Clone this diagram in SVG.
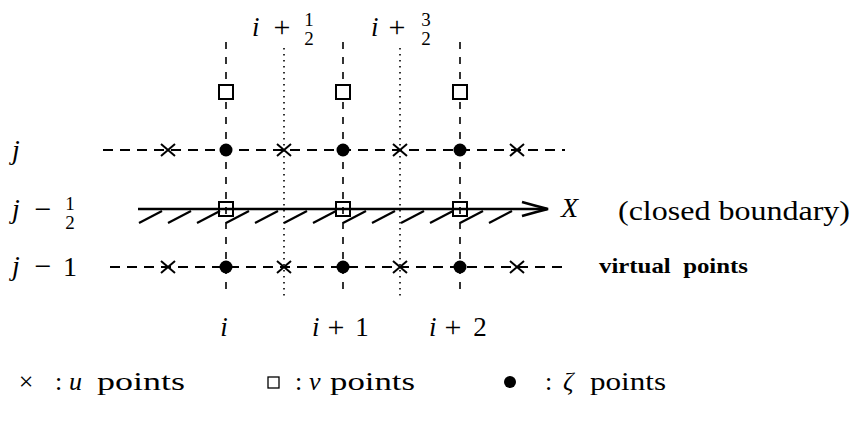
<svg xmlns="http://www.w3.org/2000/svg" width="855" height="423" viewBox="0 0 855 423">
<defs>
<style>
.vd{stroke:#000;stroke-width:1.6;stroke-dasharray:7 8;fill:none}
.vdot{stroke:#000;stroke-width:1.6;stroke-dasharray:1.5 4.5;fill:none}
.hd{stroke:#000;stroke-width:2;stroke-dasharray:10 7;fill:none}
.bd{stroke:#000;stroke-width:2.6;fill:none}
.ht{stroke:#000;stroke-width:2.2;fill:none}
.cr{stroke:#000;stroke-width:2;fill:none}
.sq{stroke:#000;stroke-width:2;fill:#fff}
.sqb{stroke:#000;stroke-width:2;fill:none}
.dt{fill:#000}
</style>
<g id="cross"><path class="cr" d="M-7,-6 L7,6 M-7,6 L7,-6"/></g>
</defs>
<rect width="855" height="423" fill="#fff"/>
<g id="connectors">
<line class="vd" x1="226" y1="42" x2="226" y2="297"/>
<line class="vd" x1="343" y1="42" x2="343" y2="297"/>
<line class="vd" x1="460" y1="42" x2="460" y2="297"/>
<line class="vdot" x1="284" y1="48" x2="284" y2="297"/>
<line class="vdot" x1="400" y1="48" x2="400" y2="297"/>
<line class="hd" x1="103" y1="150" x2="565" y2="150"/>
<line class="hd" x1="110" y1="267" x2="567" y2="267"/>
<line class="bd" x1="138" y1="209" x2="547" y2="209"/>
<path class="bd" d="M522,202 Q536,206 548,209 Q536,212 522,216"/>
<g id="hatch">
<line class="ht" x1="139" y1="223" x2="162" y2="211"/>
<line class="ht" x1="168" y1="223" x2="191" y2="211"/>
<line class="ht" x1="197" y1="223" x2="220" y2="211"/>
<line class="ht" x1="226" y1="223" x2="249" y2="211"/>
<line class="ht" x1="255" y1="223" x2="278" y2="211"/>
<line class="ht" x1="284" y1="223" x2="307" y2="211"/>
<line class="ht" x1="313" y1="223" x2="336" y2="211"/>
<line class="ht" x1="343" y1="223" x2="366" y2="211"/>
<line class="ht" x1="372" y1="223" x2="395" y2="211"/>
<line class="ht" x1="401" y1="223" x2="424" y2="211"/>
<line class="ht" x1="430" y1="223" x2="453" y2="211"/>
<line class="ht" x1="460" y1="223" x2="483" y2="211"/>
<line class="ht" x1="489" y1="223" x2="512" y2="211"/>
</g>
</g>
<g id="u-points">
<use href="#cross" x="168" y="150"/><use href="#cross" x="284" y="150"/><use href="#cross" x="400" y="150"/><use href="#cross" x="517" y="150"/>
<use href="#cross" x="168" y="267"/><use href="#cross" x="284" y="267"/><use href="#cross" x="400" y="267"/><use href="#cross" x="517" y="267"/>
</g>
<g id="zeta-points">
<circle class="dt" cx="226" cy="150" r="6.5"/><circle class="dt" cx="343" cy="150" r="6.5"/><circle class="dt" cx="460" cy="150" r="6.5"/>
<circle class="dt" cx="226" cy="267" r="6.5"/><circle class="dt" cx="343" cy="267" r="6.5"/><circle class="dt" cx="460" cy="267" r="6.5"/>
</g>
<g id="v-points">
<rect class="sq" x="219" y="85" width="14" height="14"/><rect class="sq" x="336" y="85" width="14" height="14"/><rect class="sq" x="453" y="85" width="14" height="14"/>
<rect class="sqb" x="219" y="202" width="14" height="14"/><rect class="sqb" x="336" y="202" width="14" height="14"/><rect class="sqb" x="453" y="202" width="14" height="14"/>
</g>
<g id="labels" font-family="'Liberation Serif', 'DejaVu Serif', serif" fill="#000">
<g id="top-labels">
<text x="252" y="36" font-size="27" font-style="italic">i</text>
<text x="282" y="37" font-size="30" text-anchor="middle">+</text>
<text x="309" y="26" font-size="19" text-anchor="middle">1</text>
<text x="309" y="45" font-size="19" text-anchor="middle">2</text>
<text x="371" y="36" font-size="27" font-style="italic">i</text>
<text x="397" y="37" font-size="30" text-anchor="middle">+</text>
<text x="426" y="26" font-size="19" text-anchor="middle">3</text>
<text x="426" y="45" font-size="19" text-anchor="middle">2</text>
</g>
<g id="row-labels">
<text x="12" y="159" font-size="28" font-style="italic">j</text>
<text x="12" y="218" font-size="28" font-style="italic">j</text>
<text x="43" y="219" font-size="30" text-anchor="middle">−</text>
<text x="70" y="210" font-size="19" text-anchor="middle">1</text>
<text x="70" y="229" font-size="19" text-anchor="middle">2</text>
<text x="12" y="275" font-size="28" font-style="italic">j</text>
<text x="43" y="276" font-size="30" text-anchor="middle">−</text>
<text x="70" y="276" font-size="28" text-anchor="middle">1</text>
</g>
<g id="right-labels">
<text x="561" y="217" font-size="28" font-style="italic">X</text>
<text x="618" y="220" font-size="28" textLength="232" lengthAdjust="spacingAndGlyphs">(closed boundary)</text>
<text x="599" y="273" font-size="21" font-weight="bold" textLength="149" lengthAdjust="spacingAndGlyphs" xml:space="preserve">virtual  points</text>
</g>
<g id="bottom-labels">
<text x="224" y="336" font-size="27" font-style="italic" text-anchor="middle">i</text>
<text x="312" y="336" font-size="27" font-style="italic">i</text>
<text x="336" y="337" font-size="30" text-anchor="middle">+</text>
<text x="362" y="336" font-size="27" text-anchor="middle">1</text>
<text x="429" y="336" font-size="27" font-style="italic">i</text>
<text x="453" y="337" font-size="30" text-anchor="middle">+</text>
<text x="480" y="336" font-size="27" text-anchor="middle">2</text>
</g>
<g id="legend">
<text x="26" y="390" font-size="26" text-anchor="middle">×</text>
<text x="55" y="390" font-size="26">:</text>
<text x="69" y="390" font-size="26" font-style="italic">u</text>
<text x="97" y="390" font-size="26" textLength="88" lengthAdjust="spacingAndGlyphs">points</text>
<rect x="268" y="377" width="11" height="11" fill="none" stroke="#000" stroke-width="1.3"/>
<text x="295" y="390" font-size="26">:</text>
<text x="309" y="390" font-size="26" font-style="italic">v</text>
<text x="330" y="390" font-size="26" textLength="85" lengthAdjust="spacingAndGlyphs">points</text>
<circle cx="510" cy="382" r="6" fill="#000"/>
<text x="545" y="390" font-size="26">:</text>
<text x="563" y="390" font-size="26" font-style="italic">ζ</text>
<text x="590" y="390" font-size="26" textLength="76" lengthAdjust="spacingAndGlyphs">points</text>
</g>
</g>
</svg>
